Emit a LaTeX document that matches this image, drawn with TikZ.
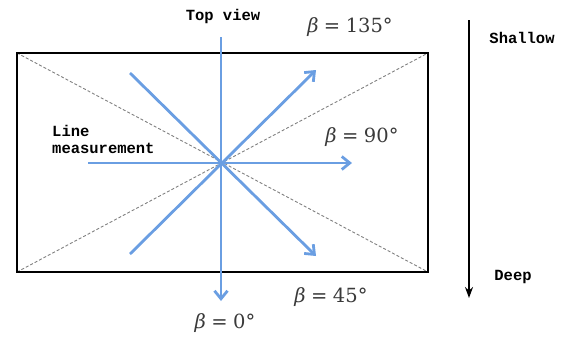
\documentclass[tikz,border=0pt]{standalone}
\usepackage{fontspec}
\newfontfamily\labelfont{Liberation Mono}
\newfontfamily\anglefont{DejaVu Serif}
\usetikzlibrary{arrows.meta}
\definecolor{rayblue}{HTML}{6A9EE2}
\definecolor{mathgray}{HTML}{3A3A3A}
\tikzset{
  ray/.style={draw=rayblue, line width=2.8pt, -{Straight Barb[length=8pt,width=13pt,line width=2.8pt]}},
  frame/.style={draw=black, line width=2.6pt},
  diag/.style={draw=gray, line width=0.9pt, dash pattern=on 3pt off 2pt},
  depth/.style={draw=black, line width=1.8pt, -{Stealth[length=11pt,width=8pt]}},
  lbl/.style={font=\labelfont\bfseries\fontsize{15.5}{17}\selectfont, inner sep=0pt},
  anglbl/.style={text=mathgray, font=\anglefont\fontsize{19.5}{22}\selectfont, inner sep=0pt}
}
\newcommand{\angl}[1]{{\itshape β}\hspace{0.28em}=\hspace{0.28em}#1°}
\begin{document}
\begin{tikzpicture}[x=1pt,y=-1pt]
\useasboundingbox (0,0) rectangle (567,338);
% frame
\coordinate (tl) at (17,53);
\coordinate (tr) at (428,53);
\coordinate (bl) at (17,272);
\coordinate (br) at (428,272);
\draw[diag] (tl) -- (br);
\draw[diag] (bl) -- (tr);
\draw[frame] (tl) rectangle (br);
% rays
\coordinate (c) at (221,163);
\coordinate (vtop) at (221,37);
\coordinate (vbot) at (221,301);
\coordinate (hl) at (88,163);
\coordinate (hr) at (352,163);
\coordinate (ur0) at (130,254);
\coordinate (ur1) at (316,70);
\coordinate (dr0) at (130,73);
\coordinate (dr1) at (316,256);
\draw[ray] (vtop) -- (vbot);
\draw[ray] (hl) -- (hr);
\draw[ray] (ur0) -- (ur1);
\draw[ray] (dr0) -- (dr1);
% labels
\node[lbl] (top) at (223,16) {Top view};
\node[lbl, anchor=west, align=left] (line) at (52,139) {Line\\measurement};
\node[anglbl] (b135) at (350,27) {\angl{135}};
\node[anglbl] (b90) at (362,137) {\angl{90}};
\node[anglbl] (b45) at (331,297) {\angl{45}};
\node[anglbl] (b0) at (225,323) {\angl{0}};
% depth arrow
\coordinate (d0) at (469,20);
\coordinate (d1) at (469,298);
\draw[depth] (d0) -- (d1);
\node[lbl] (shallow) at (522,38) {Shallow};
\node[lbl] (deep) at (513,277) {Deep};
\end{tikzpicture}
\end{document}
